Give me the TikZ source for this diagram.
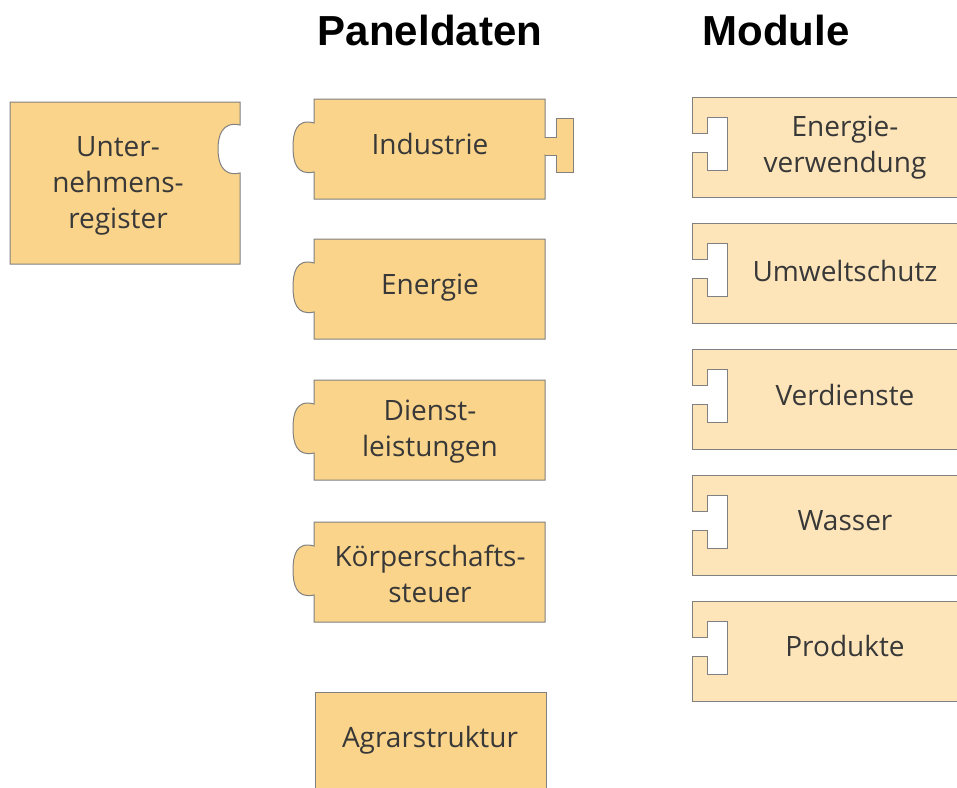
\documentclass[tikz,border=0pt]{standalone}
\usepackage{fontspec}
\setmainfont{Open Sans}
\setsansfont{Liberation Sans}
\usetikzlibrary{calc}

\definecolor{paneldat}{HTML}{FAD48B}
\definecolor{modulfarbe}{HTML}{FDE5B9}
\definecolor{randgrau}{HTML}{808080}

\tikzset{
  panelbox/.style={fill=paneldat, draw=randgrau, line width=1pt},
  modulbox/.style={fill=modulfarbe, draw=randgrau, line width=1pt},
  boxtext/.style={font=\fontsize{28}{36}\selectfont, align=center, color=black!78},
  titel/.style={font=\sffamily\bfseries\fontsize{42}{46}\selectfont}
}

\begin{document}
\begin{tikzpicture}[x=1pt,y=-1pt]
  \clip (0,0) rectangle (957,787);
  \fill[white] (0,0) rectangle (957,787);

  % Ueberschriften
  \node[titel] (tpanel) at (430,30) {Paneldaten};
  \node[titel] (tmodul) at (776,30) {Module};

  % Unternehmensregister mit Aussparung
  \draw[panelbox] (10,102) -- (240,102) -- (240,125)
     .. controls (222,121) and (218,136) .. (218,149)
     .. controls (218,162) and (222,177) .. (240,173)
     -- (240,264) -- (10,264) -- cycle;
  \node[boxtext] (ureg) at (118,186) {Unter-\\nehmens-\\register};

  % Paneldaten mit Nase links
  \foreach \t in {99,239,380,522}
    \draw[panelbox] (314,\t) -- (545,\t) -- (545,\t+100) -- (314,\t+100) -- (314,\t+73)
       .. controls (296,\t+77) and (293,\t+62) .. (293,\t+48)
       .. controls (293,\t+34) and (296,\t+19) .. (314,\t+24) -- cycle;
  % Zapfen rechts an Industrie
  \draw[panelbox] (545,137) -- (556,137) -- (556,118) -- (573,118) -- (573,172)
     -- (556,172) -- (556,155) -- (545,155);
  \fill[paneldat] (543,138) rectangle (557,154);
  \draw[panelbox] (315,692) rectangle (546,800);

  \node[boxtext] (ind) at (430,144) {Industrie};
  \node[boxtext] (ener) at (430,288) {Energie};
  \node[boxtext] (dienst) at (430,432) {Dienst-\\leistungen};
  \node[boxtext] (koerp) at (430,574) {Körperschafts-\\steuer};
  \node[boxtext] (agrar) at (430,740) {Agrarstruktur};

  % Module mit Schlitz links
  \foreach \t in {97,223,349,475,601}
    \draw[modulbox] (692,\t) -- (965,\t) -- (965,\t+100) -- (692,\t+100) -- (692,\t+55)
       -- (707,\t+55) -- (707,\t+73) -- (727,\t+73) -- (727,\t+20) -- (707,\t+20)
       -- (707,\t+36) -- (692,\t+36) -- cycle;

  \node[boxtext] (mener) at (845,148) {Energie-\\verwendung};
  \node[boxtext] (mumw) at (845,271) {Umweltschutz};
  \node[boxtext] (mverd) at (845,395) {Verdienste};
  \node[boxtext] (mwass) at (845,521) {Wasser};
  \node[boxtext] (mprod) at (845,646) {Produkte};
\end{tikzpicture}
\end{document}
